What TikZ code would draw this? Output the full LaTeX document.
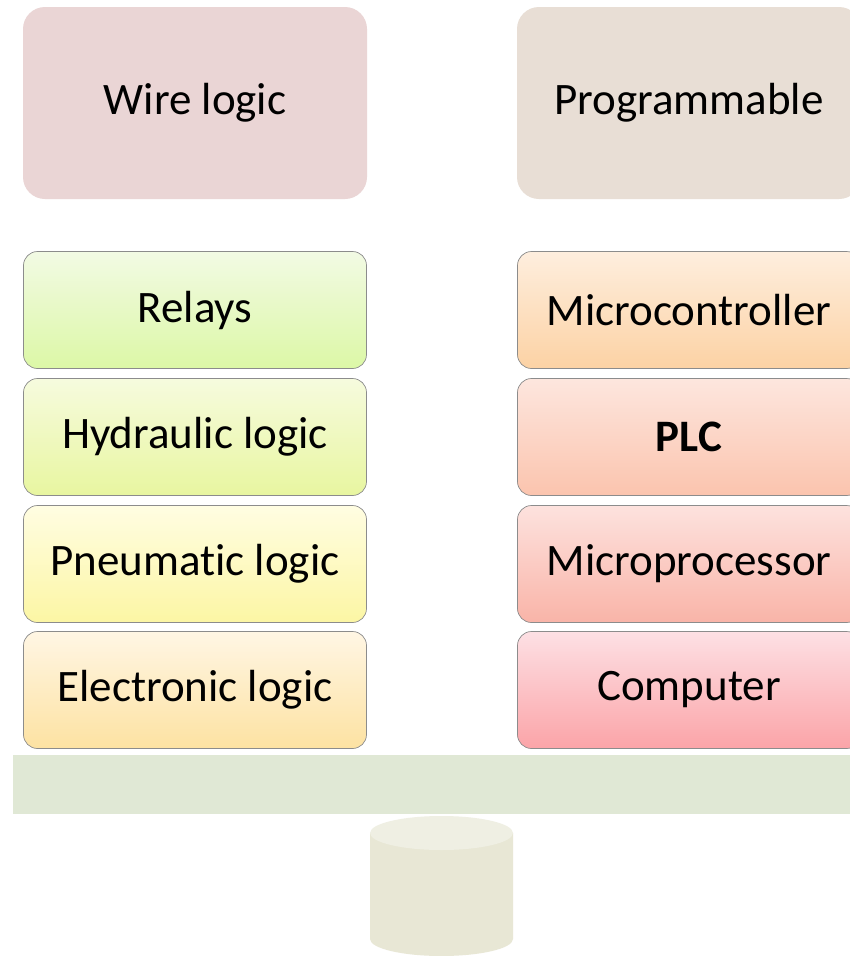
\documentclass[tikz,border=0pt]{standalone}
\usepackage{fontspec}
\setmainfont[Ligatures={NoCommon}]{Carlito}
\begin{document}
\begin{tikzpicture}[x=1pt,y=-1pt,
  cell/.style={draw=black!45, line width=0.7pt, rounded corners=14pt,
    minimum width=343pt, minimum height=117pt, inner sep=0pt,
    font=\fontsize{45}{52}\selectfont},
  head/.style={rounded corners=22pt, minimum width=344pt, minimum height=192pt,
    inner sep=0pt, font=\fontsize{45}{52}\selectfont}]
\clip (0,0) rectangle (850,956);
\fill[white] (0,0) rectangle (850,956);

% column headings
\node[head, fill={rgb,255:red,234;green,213;blue,213}] (wire) at (195,103) {Wire logic};
\node[head, fill={rgb,255:red,232;green,222;blue,213}] (prog) at (689,103) {Programmable};

% wired logic family
\node[cell, top color={rgb,255:red,242;green,250;blue,228}, bottom color={rgb,255:red,220;green,248;blue,166}] (relays) at (195,310) {Relays};
\node[cell, top color={rgb,255:red,246;green,251;blue,222}, bottom color={rgb,255:red,232;green,246;blue,160}] (hydr) at (195,437) {Hydraulic logic};
\node[cell, top color={rgb,255:red,255;green,253;blue,226}, bottom color={rgb,255:red,252;green,246;blue,164}] (pneu) at (195,564) {Pneumatic logic};
\node[cell, top color={rgb,255:red,255;green,246;blue,228}, bottom color={rgb,255:red,253;green,226;blue,162}] (elec) at (195,690) {Electronic logic};

% programmable family
\node[cell, top color={rgb,255:red,254;green,238;blue,222}, bottom color={rgb,255:red,252;green,210;blue,164}] (mcu) at (689,310) {Microcontroller};
\node[cell, top color={rgb,255:red,253;green,230;blue,222}, bottom color={rgb,255:red,251;green,196;blue,174}, font=\fontsize{45}{52}\selectfont\bfseries] (plc) at (689,437) {PLC};
\node[cell, top color={rgb,255:red,253;green,226;blue,222}, bottom color={rgb,255:red,249;green,180;blue,168}] (mpu) at (689,564) {Microprocessor};
\node[cell, top color={rgb,255:red,253;green,224;blue,228}, bottom color={rgb,255:red,251;green,164;blue,168}] (comp) at (689,690) {Computer};

% balance beam
\fill[fill={rgb,255:red,224;green,232;blue,213}] (13,755) rectangle (850,814);

% pedestal
\fill[fill={rgb,255:red,232;green,231;blue,213}]
  (370,833) -- (370,939) arc[start angle=180, end angle=0, x radius=71.5, y radius=17]
  -- (513,833) -- cycle;
\fill[fill={rgb,255:red,239;green,239;blue,227}] (441.5,833) ellipse[x radius=71.5, y radius=17];
\end{tikzpicture}
\end{document}
